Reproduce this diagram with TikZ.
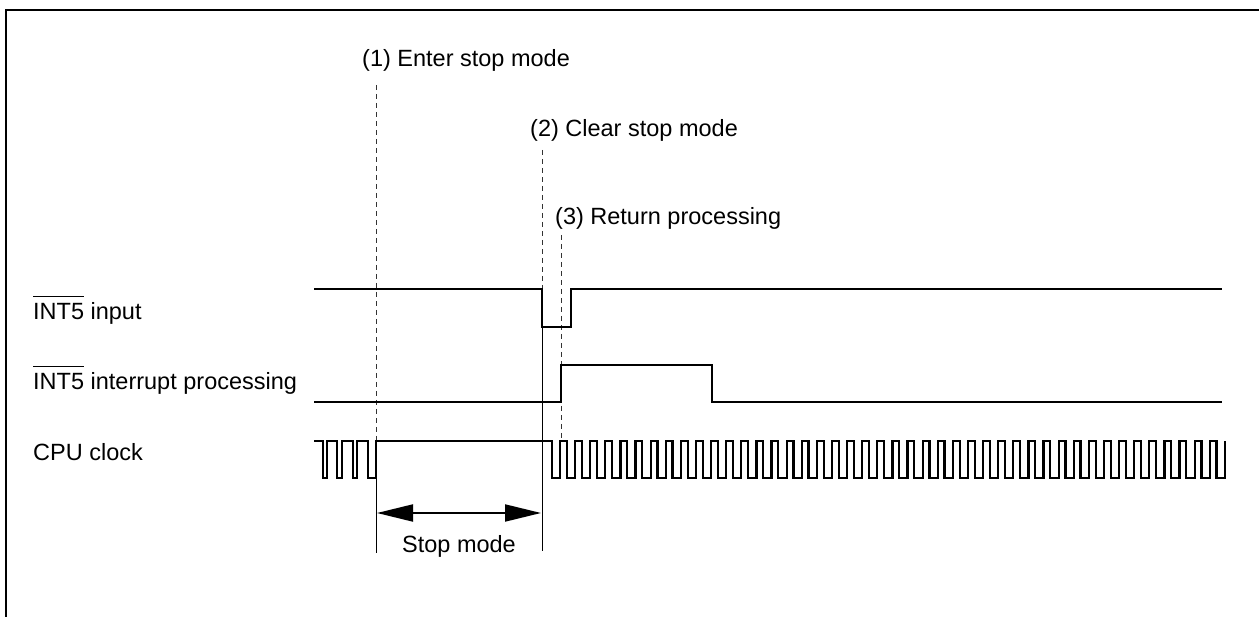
\documentclass[tikz,border=0pt]{standalone}
\usepackage{fontspec}
\setmainfont{Liberation Sans}
\usetikzlibrary{arrows.meta}
\newcommand\ovbar[1]{\leavevmode\vbox{\hrule height 1.2pt\kern 7pt\hbox{#1}}}
\begin{document}
\begin{tikzpicture}[x=1pt,y=-1pt,
  sig/.style={line width=2.2pt, line join=miter},
  guide/.style={line width=0.9pt, dash pattern=on 5pt off 4pt, black!80},
  ext/.style={line width=0.9pt},
  lbl/.style={font=\fontsize{23.5}{28}\selectfont, inner sep=0pt, anchor=base west},
  frame/.style={line width=2.6pt}
]
\useasboundingbox (0,0) rectangle (1259,617);
% frame
\coordinate (fbl) at (6,617);
\coordinate (ftl) at (6,10);
\coordinate (ftr) at (1259,10);
\draw[frame] (fbl) -- (ftl) -- (ftr);

% labels
\node[lbl] (l1) at (362,67) {(1) Enter stop mode};
\node[lbl] (l2) at (530,137) {(2) Clear stop mode};
\node[lbl] (l3) at (555,225) {(3) Return processing};
\node[lbl] (sInt) at (33,320) {\ovbar{INT5} input};
\node[lbl] (sProc) at (33,390) {\ovbar{INT5} interrupt processing};
\node[lbl] (sClk) at (33,461) {CPU clock};
\node[lbl, anchor=base] (stop) at (459,552) {Stop mode};

% guides
\coordinate (g1a) at (376,85);  \coordinate (g1b) at (376,441);
\coordinate (g1c) at (376,478); \coordinate (g1d) at (376,553);
\coordinate (g2a) at (542,150); \coordinate (g2b) at (542,289);
\coordinate (g2c) at (542,327); \coordinate (g2d) at (542,551);
\coordinate (g3a) at (561,235); \coordinate (g3b) at (561,441);
\draw[guide] (g1a) -- (g1b);
\draw[guide] (g2a) -- (g2b);
\draw[guide] (g3a) -- (g3b);
\draw[ext] (g1c) -- (g1d);
\draw[ext] (g2c) -- (g2d);

% INT5 input
\draw[sig] (314,289) -- (542,289) -- (542,327) -- (571,327) -- (571,289) -- (1222,289);
% INT5 interrupt processing
\draw[sig] (314,402) -- (561,402) -- (561,365) -- (712,365) -- (712,402) -- (1222,402);
% CPU clock
\draw[sig] (314,441)
  foreach \f/\r in {322.7/326.7, 337.3/341.7, 352.7/357.3, 368.3/376} { -- (\f,441) -- (\f,478) -- (\r,478) -- (\r,441) }
  foreach \k in {0,...,44} { -- ({551.7+15.11*\k},441) -- ({551.7+15.11*\k},478) -- ({560+15.11*\k},478) -- ({560+15.11*\k},441) };

% stop mode arrow
\coordinate (aL) at (377,513);
\coordinate (aR) at (541,513);
\draw[line width=2pt, {Triangle[length=36pt,width=17pt]}-{Triangle[length=36pt,width=17pt]}] (aL) -- (aR);
\end{tikzpicture}
\end{document}
